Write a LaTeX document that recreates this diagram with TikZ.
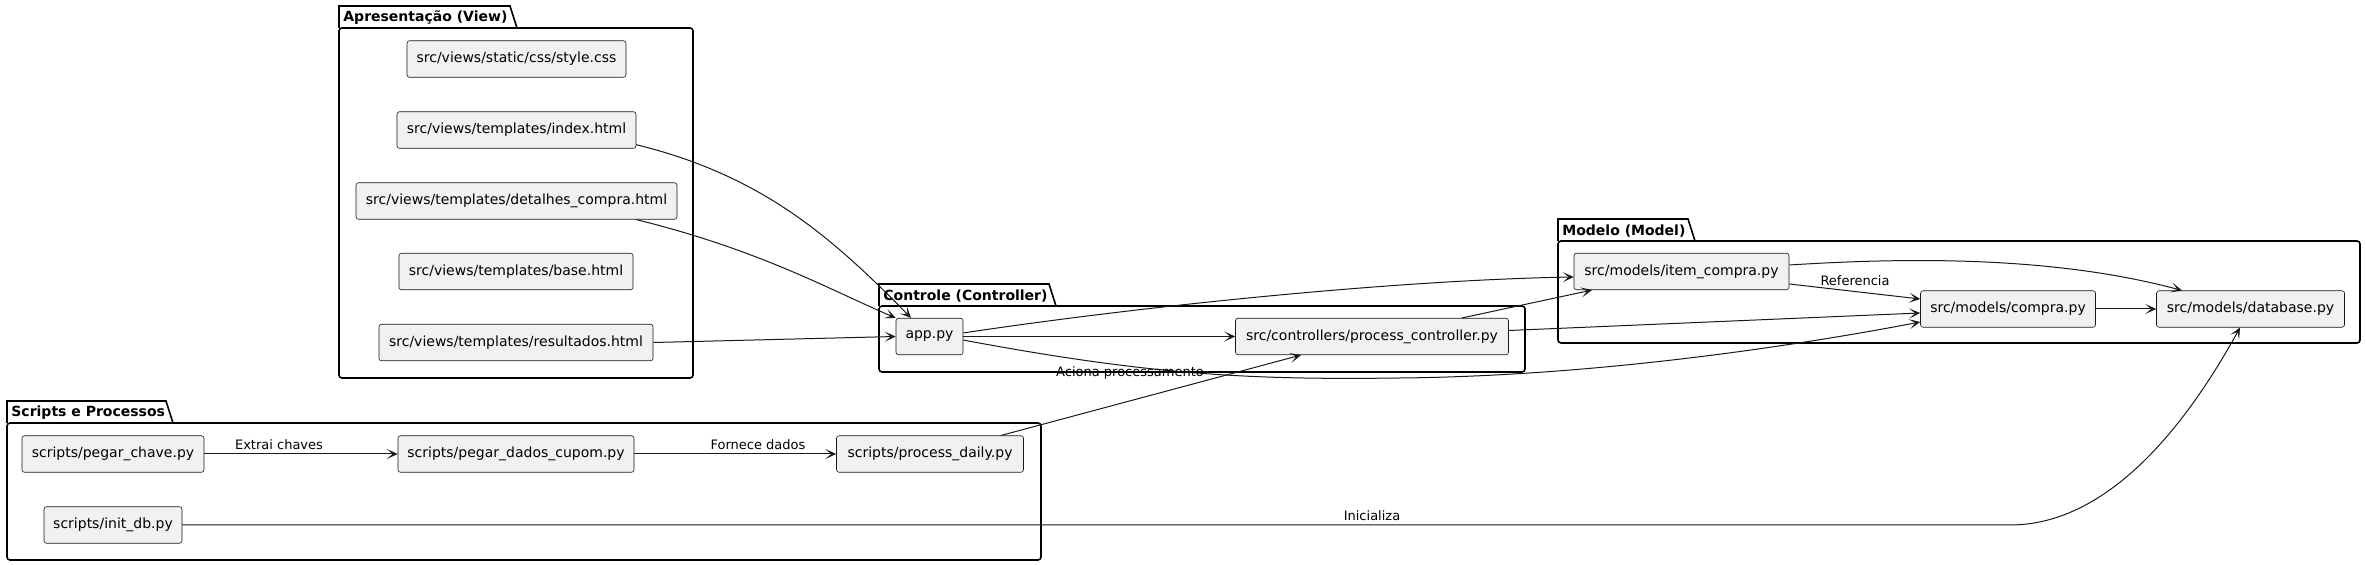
\documentclass[tikz,border=0pt]{standalone}
\usepackage{fontspec}
\setmainfont{DejaVu Sans}
\usetikzlibrary{arrows.meta}
\definecolor{boxfill}{HTML}{F1F1F1}
\definecolor{boxline}{HTML}{181818}
\newcommand{\pkgbox}[8]{%
  \draw[pkgline] (#1,#4) -- (#1,#2) -- (#3-7,#2) -- (#3,#4);
  \draw[pkgline, rounded corners=1.5pt] (#1,#4) rectangle (#5,#6);
  \node[pkgtitle] (#8) at (#1+4,{(#2+#4)/2+1}) {#7};
}
\begin{document}
\begin{tikzpicture}[x=0.5pt, y=-0.5pt,
  box/.style={draw=boxline, line width=0.3pt, fill=boxfill, rounded corners=1.25pt,
    minimum height=18.25pt, inner sep=0pt, font=\fontsize{7pt}{8.4pt}\selectfont},
  pkgline/.style={draw=black, line width=0.8pt},
  pkgtitle/.style={anchor=west, inner sep=0pt, font=\fontsize{7pt}{8.4pt}\selectfont\bfseries},
  arr/.style={draw=black!90, line width=0.5pt, -{Stealth[length=5.5pt, width=5pt, inset=3pt]}},
  lbl/.style={inner sep=0pt, font=\fontsize{6.5pt}{7.8pt}\selectfont}
]
\useasboundingbox (0,0) rectangle (2366,565);
% packages
\pkgbox{339}{6}{517}{28}{693}{378}{Apresentação (View)}{tview}
\pkgbox{879}{284}{1056}{306}{1525}{372}{Controle (Controller)}{tctrl}
\pkgbox{1558}{219}{1695}{241}{2360}{343}{Modelo (Model)}{tmodel}
\pkgbox{7}{401}{173}{423}{1041}{560}{Scripts e Processos}{tscripts}
% boxes
\node[box, minimum width=109.5pt] (css) at (516.5,59) {src/views/static/css/style.css};
\node[box, minimum width=119.5pt] (idx) at (516.5,130) {src/views/templates/index.html};
\node[box, minimum width=160.5pt] (det) at (516.5,201) {src/views/templates/detalhes\_compra.html};
\node[box, minimum width=117pt] (base) at (516,271.5) {src/views/templates/base.html};
\node[box, minimum width=137pt] (res) at (516,342.5) {src/views/templates/resultados.html};
\node[box, minimum width=33.5pt] (app) at (929.5,336.5) {app.py};
\node[box, minimum width=136.5pt] (pc) at (1372,336.5) {src/controllers/process\_controller.py};
\node[box, minimum width=107.5pt] (item) at (1681.5,271.5) {src/models/item\_compra.py};
\node[box, minimum width=87.5pt] (compra) at (2008,309) {src/models/compra.py};
\node[box, minimum width=94pt] (db) at (2250.5,309) {src/models/database.py};
\node[box, minimum width=91pt] (chave) at (113,454) {scripts/pegar\_chave.py};
\node[box, minimum width=118pt] (dados) at (516,454) {scripts/pegar\_dados\_cupom.py};
\node[box, minimum width=93.5pt] (daily) at (930,454) {scripts/process\_daily.py};
\node[box, minimum width=69pt] (initdb) at (113,525) {scripts/init\_db.py};
% edges
\draw[arr] (idx.-7) .. controls (760,175) and (830,235) .. ([xshift=-9.25pt]app.north);
\draw[arr] ([xshift=59.75pt]det.south) .. controls (760,250) and (830,290) .. (app.north west);
\draw[arr] (res.east) -- (app.west);
\draw[arr] (app.6) .. controls (1150,305) and (1400,280) .. ([yshift=-2.75pt]item.west);
\draw[arr] (app.east) -- (pc.west);
\draw[arr] (app.-6) .. controls (1150,375) and (1250,380) .. (1400,378)
  .. controls (1600,376) and (1800,345) .. ([yshift=-6.5pt]compra.west);
\draw[arr] ([xshift=45pt]pc.north) -- ([xshift=-44.75pt]item.south);
\draw[arr] ([yshift=3pt]pc.east) -- ([yshift=-2pt]compra.west);
\draw[arr] ([xshift=35.5pt]daily.north) -- ([xshift=-35.5pt]pc.south);
\draw[arr] (chave.east) -- (dados.west);
\draw[arr] (dados.east) -- (daily.west);
\draw[arr] (initdb.east) -- (2010,525) .. controls (2120,525) and (2200,400) .. ([xshift=-5.25pt]db.south);
\draw[arr] ([yshift=-6.25pt]item.east) -- ([yshift=5pt]compra.west);
\draw[arr] ([yshift=3.25pt]item.east) .. controls (1900,258) and (2050,255) .. ([xshift=-34.25pt]db.north);
\draw[arr] (compra.east) -- (db.west);
% labels
\node[lbl] (laciona) at (1130,373) {Aciona processamento};
\node[lbl] (lextrai) at (279,445) {Extrai chaves};
\node[lbl] (lfornece) at (758,445) {Fornece dados};
\node[lbl] (linicial) at (1372,516) {Inicializa};
\node[lbl] (lref) at (1855,281) {Referencia};
\end{tikzpicture}
\end{document}
